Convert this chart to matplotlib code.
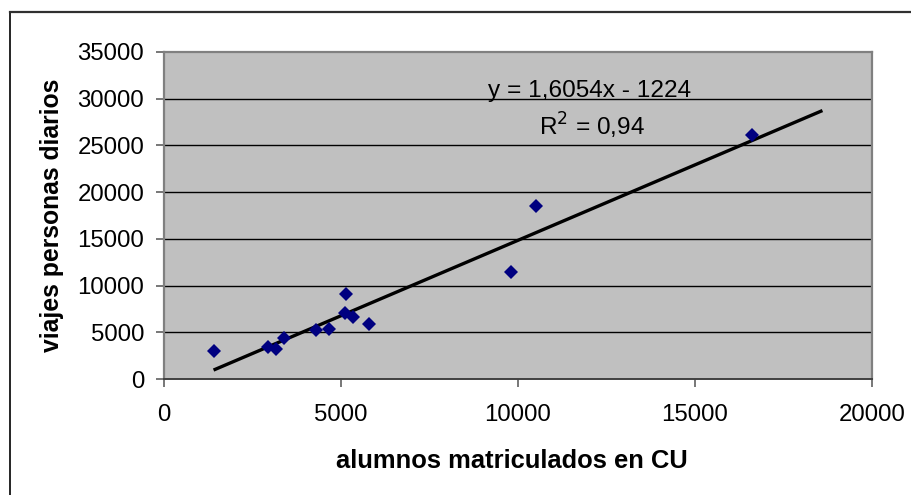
import numpy as np
import matplotlib
matplotlib.use("Agg")
import matplotlib.pyplot as plt
from matplotlib.lines import Line2D

plt.rcParams['font.family'] = ['Liberation Sans', 'DejaVu Sans']

alumnos = [1400, 2950, 3150, 3400, 4300, 4650, 5100, 5150, 5350, 5800, 9800, 10500, 16600]
viajes = [3000, 3400, 3200, 4400, 5200, 5400, 7100, 9100, 6600, 5850, 11400, 18500, 26100]
x_ticks = [0, 5000, 10000, 15000, 20000]
y_ticks = [0, 5000, 10000, 15000, 20000, 25000, 30000, 35000]
eq_text = "y = 1,6054x - 1224"
r2_text = "R$^2$ = 0,94"
forward = 2000

fig = plt.figure(figsize=(9.11, 4.95), dpi=100)
ax = fig.add_axes([164/911, 1-379/495, (872-164)/911, (379-52)/495])
ax.set_facecolor('#C0C0C0')

for yv in y_ticks[1:-1]:
    ax.axhline(yv, color='black', lw=1.0, zorder=1)

x = np.array(alumnos, dtype=float)
y = np.array(viajes, dtype=float)
m, b = np.polyfit(x, y, 1)
xl = np.array([x.min(), x.max() + forward])
ax.plot(xl, m*xl + b, color='black', lw=2.4, zorder=3, solid_capstyle='butt')

ax.plot(alumnos, viajes, linestyle='none', marker='D', markersize=7.3,
        color='#000080', markeredgewidth=0, zorder=4)

ax.set_xlim(0, 20000)
ax.set_ylim(0, 35000)
ax.set_xticks(x_ticks)
ax.set_yticks(y_ticks)
ax.tick_params(axis='both', direction='out', length=5.8, width=1.2, color='#606060',
               labelsize=17.3)
ax.tick_params(axis='y', pad=8.4)
ax.tick_params(axis='x', pad=12)
for s in ['left', 'right', 'top']:
    ax.spines[s].set_color('#808080')
    ax.spines[s].set_linewidth(1.6)
ax.spines['bottom'].set_color('#404040')
ax.spines['bottom'].set_linewidth(1.4)

ax.set_xlabel('alumnos matriculados en CU', fontsize=18.4, fontweight='bold')
ax.xaxis.set_label_coords((512-164)/708, -(461-379)/327, transform=None) if False else None
ax.xaxis.set_label_coords((512-164)/708, -(461-379)/327)
ax.xaxis.label.set_va('center')
ax.set_ylabel('viajes personas diarios', fontsize=17.8, fontweight='bold')
ax.yaxis.set_label_coords(-(164-52.5)/708, 0.5)
ax.yaxis.label.set_va('center')

ax.text(590/911, 1-91/495, eq_text, transform=fig.transFigure, fontsize=17.6,
        ha='center', va='center')
ax.text(592/911, 1-126/495, r2_text, transform=fig.transFigure, fontsize=17.6,
        ha='center', va='center')

# outer chart border (top and left visible)
fig.add_artist(Line2D([10/911, 10/911], [0, 1-11.5/495], transform=fig.transFigure,
                      color='black', lw=1.2))
fig.add_artist(Line2D([10/911, 1], [1-11.5/495, 1-11.5/495], transform=fig.transFigure,
                      color='#303030', lw=1.6))

fig.savefig('out.png', dpi=100)
